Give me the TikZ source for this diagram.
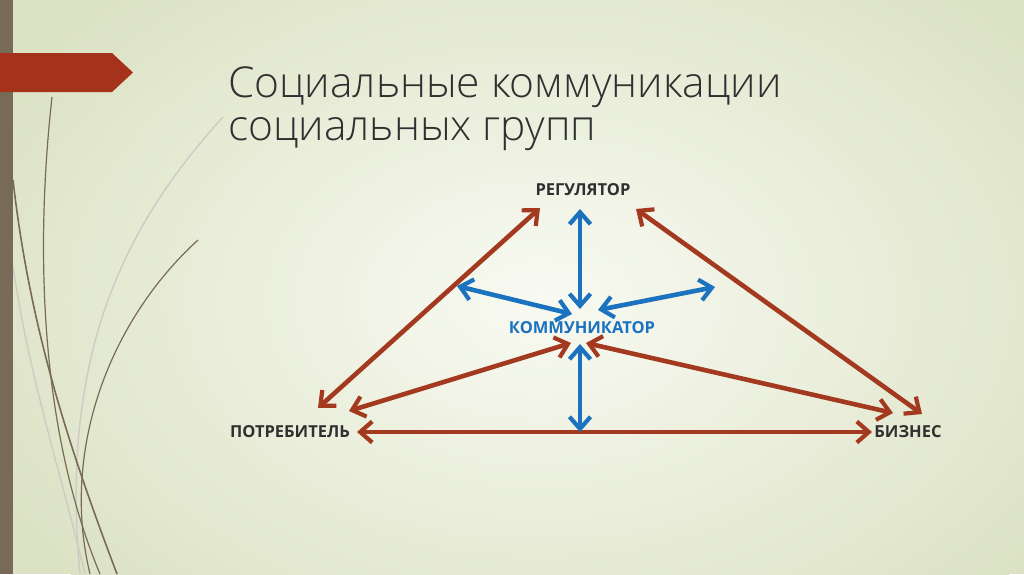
\documentclass[tikz,border=0pt]{standalone}
\usepackage{fontspec}
\setmainfont{Open Sans}
\newfontfamily\titlefont{Open Sans Light}
\usetikzlibrary{arrows.meta}
\definecolor{bgout}{HTML}{DCE2C4}
\definecolor{bgin}{HTML}{F8FAF2}
\definecolor{barc}{HTML}{776B57}
\definecolor{bannerc}{HTML}{A5321A}
\definecolor{arrbrown}{HTML}{A3391E}
\definecolor{arrblue}{HTML}{1B72BE}
\definecolor{txt}{HTML}{303030}
\tikzset{
  tipb/.tip={Straight Barb[length=12pt,width=21pt,line width=4.2pt]},
  brownarr/.style={draw=arrbrown, line width=4.6pt, tipb-tipb},
  bluearr/.style={draw=arrblue, line width=4.6pt, tipb-tipb},
  lbl/.style={font=\bfseries\fontsize{16.5}{18}\selectfont, text=txt, inner sep=0pt},
  deco/.style={draw=barc, line width=1.6pt},
  decolight/.style={draw=barc!35, line width=1.4pt},
}
\begin{document}
\begin{tikzpicture}[x=1pt,y=-1pt]
\useasboundingbox (0,0) rectangle (1024,574);
% background
\fill[bgout] (0,0) rectangle (1024,574);
\shade[inner color=bgin, outer color=bgout] (540,300) ellipse (620 and 420);
% decorative curves
\draw[decolight] (13,267) .. controls (30,380) and (60,470) .. (85,574);
\draw[decolight] (223,117) .. controls (120,230) and (60,360) .. (80,574);
\draw[deco] (13,180) .. controls (30,330) and (70,450) .. (117,574);
\draw[deco, line width=1.2pt] (52,97) .. controls (35,250) and (40,430) .. (100,574);
\draw[deco, line width=1.2pt] (198,240) .. controls (110,320) and (60,450) .. (90,574);
% left bar and banner
\fill[barc] (0,0) rectangle (13,574);
\fill[bannerc] (0,53) -- (112,53) -- (133,72.5) -- (112,92) -- (0,92) -- cycle;
% title
\node[anchor=base west, inner sep=0pt, text=txt, font=\titlefont\fontsize{42.5}{48}\selectfont] (t1) at (228,97) {Социальные коммуникации};
\node[anchor=base west, inner sep=0pt, text=txt, font=\titlefont\fontsize{42.5}{48}\selectfont] (t2) at (228,140) {социальных групп};
% labels
\node[lbl] (reg) at (583,190) {РЕГУЛЯТОР};
\node[lbl, text=arrblue] (kom) at (582,328) {КОММУНИКАТОР};
\node[lbl] (pot) at (290,432) {ПОТРЕБИТЕЛЬ};
\node[lbl] (biz) at (908,432) {БИЗНЕС};
% arrow end points
\coordinate (rL) at (540,208);
\coordinate (rB) at (580,209);
\coordinate (rR) at (636,209);
\coordinate (kT) at (580,309);
\coordinate (kL) at (572,314);
\coordinate (kR) at (598,310);
\coordinate (kBL) at (571,343);
\coordinate (kB) at (580,344);
\coordinate (kBR) at (586,343);
\coordinate (bl) at (457,286);
\coordinate (br) at (715,287);
\coordinate (pT) at (318,408);
\coordinate (pM) at (349,411);
\coordinate (pR) at (357,432);
\coordinate (bL) at (872,432);
\coordinate (bM) at (893,413);
\coordinate (bT) at (922,414);
\coordinate (hm) at (580,432);
% brown arrows
\draw[brownarr] (rL) -- (pT);
\draw[brownarr] (pM) -- (kBL);
\draw[brownarr] (pR) -- (bL);
\draw[brownarr] (rR) -- (bT);
\draw[brownarr] (kBR) -- (bM);
% blue arrows
\draw[bluearr] (rB) -- (kT);
\draw[bluearr] (bl) -- (kL);
\draw[bluearr] (kR) -- (br);
\draw[bluearr] (kB) -- (hm);
\end{tikzpicture}
\end{document}
